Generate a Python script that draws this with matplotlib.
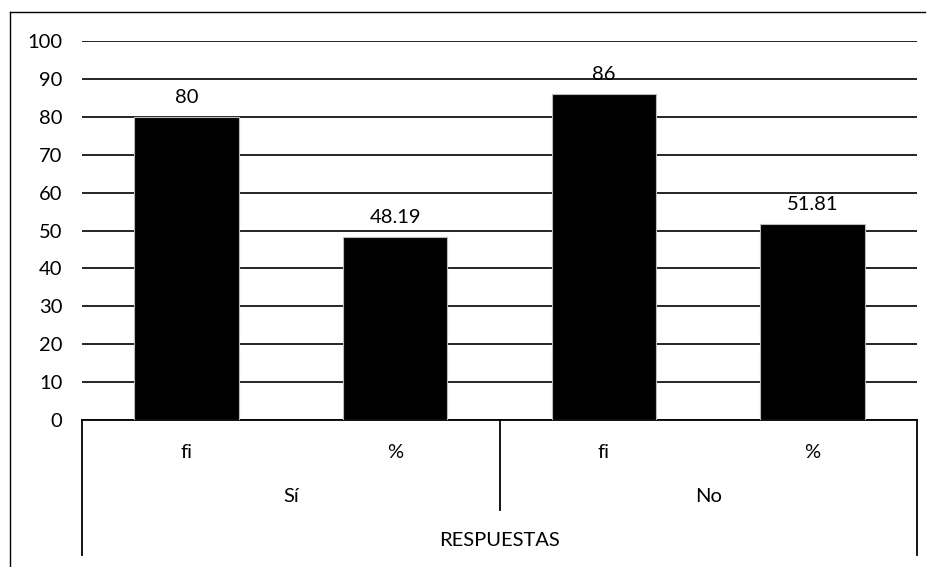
import matplotlib.pyplot as plt
from matplotlib.lines import Line2D

plt.rcParams['font.family'] = ['Lato', 'DejaVu Sans']

# Data: frequency (fi) and percentage for each answer
groups = ['Sí', 'No']
subcats = ['fi', '%']
values = [80, 48.19, 86, 51.81]
value_labels = ['80', '48.19', '86', '51.81']
axis_title = 'RESPUESTAS'
y_ticks = list(range(0, 101, 10))

FS = 14.5
W, H = 933, 567
fig = plt.figure(figsize=(W / 100, H / 100), dpi=100)

# plot area in pixels
left, right, top, bottom = 82, 917, 41, 420
ax = fig.add_axes([left / W, 1 - bottom / H, (right - left) / W, (bottom - top) / H])

x = list(range(len(values)))
ax.bar(x, values, width=0.5, color='black', edgecolor='#bbbbbb', linewidth=0.8, zorder=3)

for xi, v, lab in zip(x, values, value_labels):
    ax.annotate(lab, (xi, v), xytext=(0, 8), textcoords='offset points',
                ha='center', va='bottom', fontsize=FS, color='black')

ax.set_xlim(-0.5, len(values) - 0.5)
ax.set_ylim(0, 100)
ax.set_yticks(y_ticks)
ax.set_yticklabels([str(t) for t in y_ticks], fontsize=FS)
ax.tick_params(axis='y', length=0, pad=14)
ax.set_xticks([])
ax.yaxis.grid(True, color='black', linewidth=1.2, zorder=0)
ax.set_axisbelow(True)
for s in ['left', 'right', 'top']:
    ax.spines[s].set_visible(False)
ax.spines['bottom'].set_linewidth(1.3)

# multi-level category axis
tr = ax.get_xaxis_transform()
pxh = bottom - top
def yax(py):
    return (bottom - py) / pxh

n_sub = len(subcats)
for i in range(len(values)):
    ax.text(i, yax(452), subcats[i % n_sub], transform=tr, ha='center', va='center', fontsize=FS)
for g, name in enumerate(groups):
    cx = g * n_sub + (n_sub - 1) / 2
    ax.text(cx, yax(497), name, transform=tr, ha='center', va='center', fontsize=FS)
ax.text((len(values) - 1) / 2, yax(540), axis_title, transform=tr, ha='center', va='center', fontsize=FS)

# separators
ax.add_line(Line2D([-0.5, -0.5], [0, yax(555)], transform=tr, color='black', lw=1.3, clip_on=False))
ax.add_line(Line2D([len(values) - 0.5] * 2, [0, yax(555)], transform=tr, color='black', lw=1.3, clip_on=False))
for g in range(1, len(groups)):
    xs = g * n_sub - 0.5
    ax.add_line(Line2D([xs, xs], [0, yax(510)], transform=tr, color='black', lw=1.3, clip_on=False))

# outer chart border (top and left)
fig.add_artist(Line2D([10 / W, 925 / W], [1 - 12 / H, 1 - 12 / H], color='black', lw=1.0))
fig.add_artist(Line2D([10 / W, 10 / W], [1 - 12 / H, 0], color='black', lw=1.0))

fig.savefig('out.png', dpi=100)
